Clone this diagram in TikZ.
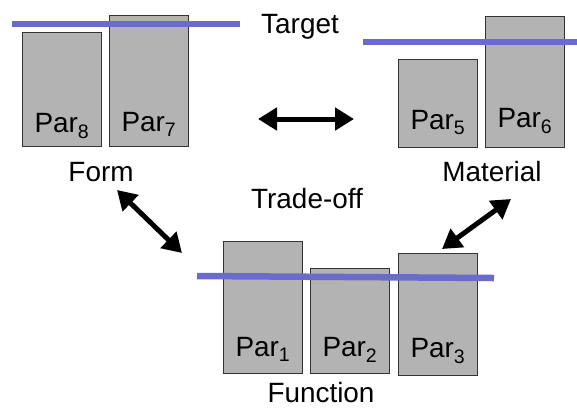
\documentclass[tikz,border=0pt]{standalone}
\usepackage{fontspec}
\setmainfont{Liberation Sans}
\usetikzlibrary{arrows.meta,positioning}

\definecolor{bargray}{RGB}{179,179,179}
\definecolor{goalblue}{RGB}{107,107,204}

\begin{document}
\begin{tikzpicture}[x=1bp, y=-1bp,
    font=\fontsize{28}{32}\selectfont,
    parbox/.style={draw=black!80, line width=0.9bp, fill=bargray, anchor=north west, inner sep=0pt},
    parlbl/.style={anchor=base, inner sep=0pt},
    goal/.style={goalblue, line width=6.5bp},
    dbl/.style={{Triangle[width=22bp,length=19bp]}-{Triangle[width=22bp,length=19bp]}, line width=5bp}]
  \useasboundingbox (0,0) rectangle (577,408);

  % Form
  \node[parbox, minimum width=79bp, minimum height=114bp] (P8) at (22,32) {};
  \node[parbox, minimum width=79bp, minimum height=131bp] (P7) at (109,15) {};
  \node[parlbl] at ([yshift=14bp]P8.south) {Par\textsubscript{8}};
  \node[parlbl] at ([yshift=15bp]P7.south) {Par\textsubscript{7}};

  % Material
  \node[parbox, minimum width=79bp, minimum height=88bp] (P5) at (398,59) {};
  \node[parbox, minimum width=79bp, minimum height=131bp] (P6) at (485,16) {};
  \node[parlbl] at ([yshift=18bp]P5.south) {Par\textsubscript{5}};
  \node[parlbl] at ([yshift=20bp]P6.south) {Par\textsubscript{6}};

  % Function
  \node[parbox, minimum width=79bp, minimum height=132bp] (P1) at (223,241) {};
  \node[parbox, minimum width=79bp, minimum height=105bp] (P2) at (310,268) {};
  \node[parbox, minimum width=79bp, minimum height=122bp] (P3) at (398,253) {};
  \node[parlbl] at ([yshift=17bp]P1.south) {Par\textsubscript{1}};
  \node[parlbl] at ([yshift=17bp]P2.south) {Par\textsubscript{2}};
  \node[parlbl] at ([yshift=18bp]P3.south) {Par\textsubscript{3}};

  % target lines
  \coordinate (G1a) at (12,24);
  \coordinate (G1b) at (240,24);
  \coordinate (G2a) at (363,42);
  \coordinate (G2b) at (577,42);
  \coordinate (G3a) at (197,276);
  \coordinate (G3b) at (494,278);
  \draw[goal] (G1a) -- (G1b);
  \draw[goal] (G2a) -- (G2b);
  \draw[goal] (G3a) -- (G3b);

  \node[parlbl] (target) at (300,33) {Target};
  \node[parlbl] (form) at (101,181) {Form};
  \node[parlbl] (material) at (492,181) {Material};
  \node[parlbl] (tradeoff) at (307,208) {Trade-off};
  \node[parlbl] (function) at (321,402) {Function};

  % trade-off arrows
  \coordinate (A1) at (258,119);
  \coordinate (A2) at (354,119);
  \coordinate (B1) at (117,190);
  \coordinate (B2) at (182,253);
  \coordinate (C1) at (511,199);
  \coordinate (C2) at (442,249);
  \draw[dbl] (A1) -- (A2);
  \draw[dbl] (B1) -- (B2);
  \draw[dbl] (C1) -- (C2);
\end{tikzpicture}
\end{document}
